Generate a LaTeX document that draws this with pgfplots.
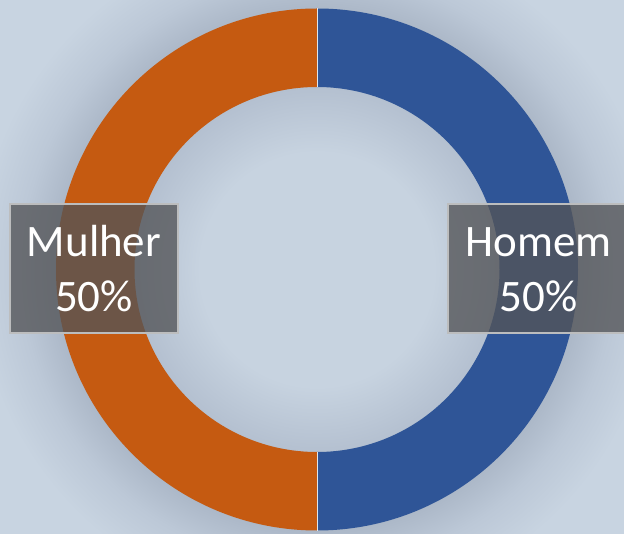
\documentclass[border=0pt]{standalone}
\usepackage{pgfplots}
\usepackage{pgfplotstable}
\pgfplotsset{compat=1.18}
\usepackage{fontspec}
\setmainfont{Carlito}
\definecolor{bgl}{RGB}{200,212,225}
\definecolor{bgm}{RGB}{188,200,215}
\definecolor{bgd}{RGB}{172,184,200}
\definecolor{holec}{RGB}{199,211,224}
\definecolor{holee}{RGB}{180,192,208}
\definecolor{cHomem}{RGB}{47,85,151}
\definecolor{cMulher}{RGB}{197,90,17}
\definecolor{boxfill}{RGB}{83,84,87}
\definecolor{boxline}{RGB}{188,189,190}
\pgfdeclareradialshading{halo}{\pgfpoint{0bp}{0bp}}{%
  color(0bp)=(holec); color(6.5bp)=(holec); color(10.14bp)=(holee);
  color(14.5bp)=(bgd); color(16.5bp)=(bgm); color(19bp)=(bgl); color(25bp)=(bgl); color(50bp)=(bgl)}
\pgfplotstableread{
label value
Homem 50
Mulher 50
}\datatable
\begin{document}
\begin{tikzpicture}
\pgfplotstablegetelem{0}{value}\of\datatable \let\vA\pgfplotsretval
\pgfplotstablegetelem{1}{value}\of\datatable \let\vB\pgfplotsretval
\pgfmathsetmacro{\tot}{\vA+\vB}
\pgfmathsetmacro{\aA}{90-360*(\vA/\tot)}
\pgfmathsetmacro{\aB}{\aA-360*(\vB/\tot)}
\path[use as bounding box] (0,0) rectangle (624pt,533pt);
\begin{axis}[at={(0,0)},anchor=south west,x=1pt,y=1pt,
  xmin=0,xmax=624,ymin=0,ymax=533,hide axis,clip=true]
\shade[shading=halo] (axis cs:317,263.5) circle (450pt);
\fill[cHomem,shift={(axis cs:317,263.5)}]
  (90:261pt) arc[start angle=90,end angle=\aA,radius=261pt]
  -- (\aA:182.5pt) arc[start angle=\aA,end angle=90,radius=182.5pt] -- cycle;
\fill[cMulher,shift={(axis cs:317,263.5)}]
  (\aA:261pt) arc[start angle=\aA,end angle=\aB,radius=261pt]
  -- (\aB:182.5pt) arc[start angle=\aB,end angle=\aA,radius=182.5pt] -- cycle;
\draw[bgl!60!white,line width=0.6pt,shift={(axis cs:317,263.5)}]
  (90:182.5pt) -- (90:261pt) (\aA:182.5pt) -- (\aA:261pt);
\fill[boxfill,fill opacity=0.78] (axis cs:10,200) rectangle (axis cs:178,329);
\draw[boxline,line width=2.5pt] (axis cs:10,200) rectangle (axis cs:178,329);
\fill[boxfill,fill opacity=0.78] (axis cs:448,200) rectangle (axis cs:632,329);
\draw[boxline,line width=2.5pt] (axis cs:448,200) rectangle (axis cs:632,329);
\node[anchor=base,white,font=\fontsize{45}{45}\selectfont,inner sep=0pt] at (axis cs:94,276) {Mulher};
\node[anchor=base,white,font=\fontsize{45}{45}\selectfont,inner sep=0pt] at (axis cs:94,221) {50\%};
\node[anchor=base,white,font=\fontsize{45}{45}\selectfont,inner sep=0pt] at (axis cs:538.5,276) {Homem};
\node[anchor=base,white,font=\fontsize{45}{45}\selectfont,inner sep=0pt] at (axis cs:538.5,221) {50\%};
\end{axis}
\end{tikzpicture}
\end{document}
